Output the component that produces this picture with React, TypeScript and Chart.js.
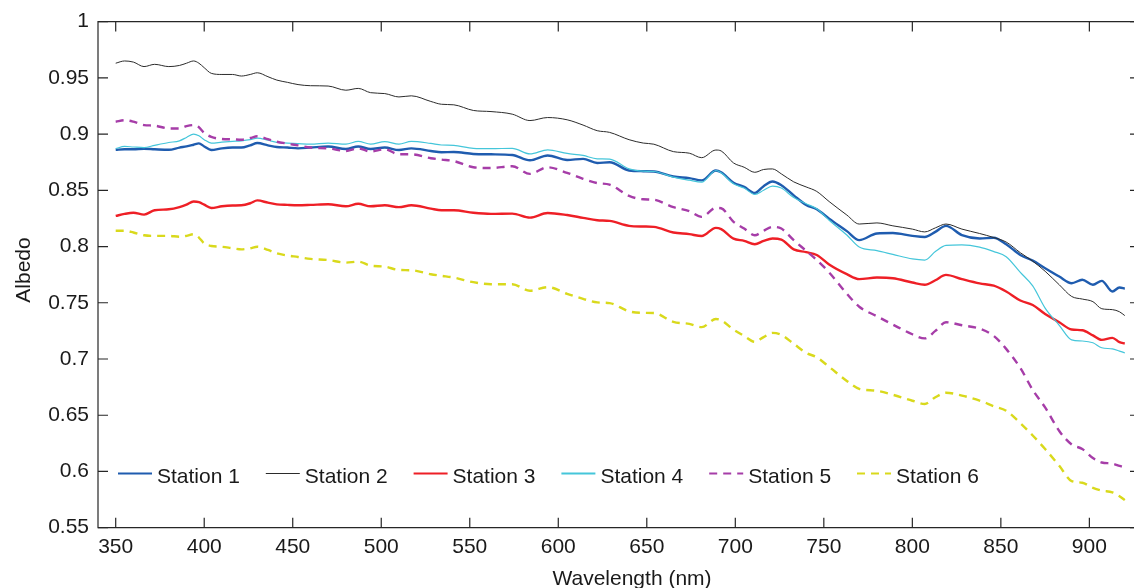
import React, { useEffect, useRef } from "react";
import { Chart, registerables } from "chart.js";

Chart.register(...registerables);

const WAVELENGTHS = [
  350, 355, 360, 366, 372, 380, 386, 390, 394, 397,
  400, 404, 410, 416, 421, 426, 430, 436, 441, 447,
  453, 460, 470, 480, 487, 494, 502, 510, 517, 528,
  534, 541, 552, 562, 574, 584, 594, 605, 614, 622,
  629, 640, 648, 654, 665, 674, 681, 689, 692, 699,
  705, 711, 716, 721, 726, 733, 740, 746, 753, 763,
  770, 780, 789, 800, 807, 813, 819, 828, 838, 846,
  853, 861, 868, 875, 883, 890, 896, 902, 907, 913,
  917, 920,
];

const STATION_1 = [
  0.886, 0.8865, 0.8865, 0.887, 0.8865, 0.886, 0.888, 0.889, 0.8905, 0.8917,
  0.889, 0.8858, 0.8873, 0.888, 0.888, 0.89, 0.892, 0.89, 0.8885, 0.888,
  0.8873, 0.888, 0.889, 0.8867, 0.889, 0.8867, 0.888, 0.8858, 0.8873, 0.885,
  0.8838, 0.884, 0.8823, 0.882, 0.8814, 0.8767, 0.881, 0.877, 0.8779, 0.8743,
  0.875, 0.8676, 0.867, 0.8667, 0.8623, 0.8608, 0.8588, 0.8676, 0.866, 0.8567,
  0.853, 0.8476, 0.8537, 0.8578, 0.8545, 0.8455, 0.837, 0.8331, 0.8248, 0.8137,
  0.8057, 0.8116, 0.812, 0.8095, 0.8085, 0.813, 0.8184, 0.8102, 0.8072, 0.8078,
  0.802, 0.7925, 0.7875, 0.7807, 0.7733, 0.7674, 0.7704, 0.766, 0.7695, 0.76,
  0.7636, 0.7625,
];

const STATION_2 = [
  0.963, 0.965, 0.964, 0.96, 0.962, 0.96, 0.961, 0.963, 0.965, 0.963,
  0.959, 0.954, 0.953, 0.953, 0.9516, 0.953, 0.9545, 0.951, 0.948, 0.946,
  0.944, 0.943, 0.9427, 0.939, 0.9406, 0.9368, 0.936, 0.933, 0.934, 0.929,
  0.9265, 0.926, 0.921, 0.92, 0.9177, 0.912, 0.9147, 0.9127, 0.908, 0.903,
  0.9015, 0.895, 0.892, 0.891, 0.8844, 0.883, 0.879, 0.8858, 0.885, 0.8743,
  0.8705, 0.866, 0.8685, 0.869, 0.8646, 0.8575, 0.853, 0.849, 0.84, 0.828,
  0.82, 0.821, 0.8184, 0.8155, 0.813, 0.8166, 0.82, 0.8155, 0.8116, 0.808,
  0.804, 0.7945, 0.787, 0.778, 0.766, 0.7556, 0.7533, 0.751, 0.7447, 0.7439,
  0.742, 0.7386,
];

const STATION_3 = [
  0.8272, 0.829, 0.83, 0.8284, 0.8323, 0.8331, 0.835, 0.8372, 0.84, 0.8395,
  0.8372, 0.8343, 0.8358, 0.8365, 0.8367, 0.8385, 0.841, 0.839, 0.8375, 0.837,
  0.8367, 0.837, 0.8376, 0.8358, 0.838, 0.8358, 0.8367, 0.835, 0.8367, 0.8337,
  0.8323, 0.8323, 0.83, 0.829, 0.8293, 0.8257, 0.8298, 0.828, 0.8255, 0.8234,
  0.8228, 0.8184, 0.8178, 0.8175, 0.8125, 0.811, 0.8093, 0.8166, 0.8155, 0.807,
  0.8051, 0.802, 0.805, 0.8072, 0.8062, 0.7975, 0.795, 0.7925, 0.784, 0.7754,
  0.771, 0.7724, 0.7718, 0.768, 0.766, 0.77, 0.7748, 0.771, 0.7672, 0.7652,
  0.76, 0.752, 0.748, 0.74, 0.7327, 0.7262, 0.7256, 0.721, 0.717, 0.7188,
  0.715, 0.7138,
];

const STATION_4 = [
  0.887, 0.889, 0.8885, 0.888, 0.89, 0.8925, 0.894, 0.897, 0.9, 0.8985,
  0.895, 0.892, 0.8928, 0.8935, 0.894, 0.895, 0.8964, 0.8945, 0.8926, 0.892,
  0.8915, 0.891, 0.892, 0.891, 0.8935, 0.891, 0.8932, 0.891, 0.8935, 0.8917,
  0.8903, 0.89, 0.8873, 0.887, 0.8873, 0.8823, 0.886, 0.8828, 0.881, 0.878,
  0.8777, 0.869, 0.867, 0.8667, 0.8617, 0.859, 0.8573, 0.8676, 0.8655, 0.8558,
  0.852, 0.8464, 0.85, 0.8537, 0.852, 0.8435, 0.838, 0.8335, 0.8234, 0.8102,
  0.7995, 0.7963, 0.793, 0.789, 0.788, 0.7955, 0.801, 0.8015, 0.7995, 0.7955,
  0.791, 0.777, 0.765, 0.7453, 0.73, 0.717, 0.716, 0.7144, 0.71, 0.709,
  0.707, 0.7055,
];

const STATION_5 = [
  0.911, 0.9123, 0.911, 0.908, 0.9075, 0.905, 0.905, 0.907, 0.908, 0.906,
  0.901, 0.8975, 0.8956, 0.8953, 0.895, 0.8965, 0.898, 0.8955, 0.8932, 0.8915,
  0.89, 0.888, 0.8873, 0.885, 0.8873, 0.8845, 0.8865, 0.882, 0.882, 0.8785,
  0.8773, 0.876, 0.8705, 0.8698, 0.8714, 0.8646, 0.8705, 0.8655, 0.8602, 0.8564,
  0.855, 0.845, 0.842, 0.8416, 0.835, 0.8314, 0.8264, 0.8343, 0.834, 0.822,
  0.816, 0.81, 0.814, 0.8175, 0.816, 0.8057, 0.7962, 0.788, 0.777, 0.758,
  0.7465, 0.738, 0.7306, 0.722, 0.7183, 0.725, 0.7327, 0.73, 0.727, 0.7205,
  0.709, 0.692, 0.6725, 0.657, 0.636, 0.624, 0.62, 0.612, 0.608, 0.607,
  0.605, 0.6035,
];

const STATION_6 = [
  0.814, 0.814, 0.8125, 0.81, 0.8095, 0.8095, 0.8087, 0.8095, 0.811, 0.808,
  0.8027, 0.8005, 0.7998, 0.7985, 0.7975, 0.7985, 0.7998, 0.797, 0.7939, 0.792,
  0.7907, 0.789, 0.788, 0.7857, 0.7866, 0.783, 0.7821, 0.7792, 0.7789, 0.7754,
  0.774, 0.7724, 0.7683, 0.7665, 0.7665, 0.7607, 0.7639, 0.758, 0.7535, 0.7503,
  0.7497, 0.7424, 0.741, 0.7409, 0.733, 0.7312, 0.7283, 0.7356, 0.7345, 0.7262,
  0.7205, 0.7153, 0.7195, 0.7232, 0.7215, 0.7135, 0.7055, 0.7015, 0.693, 0.6805,
  0.6735, 0.6717, 0.6682, 0.6629, 0.66, 0.666, 0.67, 0.6675, 0.663, 0.658,
  0.654, 0.643, 0.632, 0.62, 0.605, 0.5915, 0.59, 0.5855, 0.583, 0.5815,
  0.578, 0.5745,
];

const SERIES_NAMES = ["Station 1", "Station 2", "Station 3", "Station 4", "Station 5", "Station 6"];
const X_TICKS = [350, 400, 450, 500, 550, 600, 650, 700, 750, 800, 850, 900];
const Y_TICKS = [0.55, 0.6, 0.65, 0.7, 0.75, 0.8, 0.85, 0.9, 0.95, 1];
const X_TITLE = "Wavelength (nm)";
const Y_TITLE = "Albedo";

const FONT = "'Liberation Sans', Arial, Helvetica, sans-serif";
const TEXT = "#1a1a1a";
const AXIS = "#262626";

const STYLES = [
  { color: "#1f5caf", width: 2.4, legendWidth: 2.2, dash: [] as number[] },
  { color: "#2b2b2b", width: 1, legendWidth: 1, dash: [] as number[] },
  { color: "#ee1f26", width: 2.4, legendWidth: 2.2, dash: [] as number[] },
  { color: "#45c6da", width: 1.2, legendWidth: 1.8, dash: [] as number[] },
  { color: "#a63da8", width: 2.4, legendWidth: 2.2, dash: [8, 6] },
  { color: "#d9d91c", width: 2.4, legendWidth: 2.2, dash: [8, 6] },
];

const decorPlugin = {
  id: "decor",
  afterDraw(chart: any) {
    const { ctx, chartArea, scales } = chart;
    const { left, right, top, bottom } = chartArea;
    ctx.save();
    ctx.strokeStyle = AXIS;
    ctx.lineWidth = 1.2;
    ctx.setLineDash([]);
    ctx.beginPath();
    ctx.moveTo(left, top);
    ctx.lineTo(right, top);
    ctx.lineTo(right, bottom);
    ctx.lineTo(left, bottom);
    ctx.closePath();
    ctx.stroke();
    const tl = 10;
    ctx.beginPath();
    for (const v of X_TICKS) {
      const x = scales.x.getPixelForValue(v);
      ctx.moveTo(x, bottom);
      ctx.lineTo(x, bottom - tl);
      ctx.moveTo(x, top);
      ctx.lineTo(x, top + tl);
    }
    for (const v of Y_TICKS) {
      const y = scales.y.getPixelForValue(v);
      ctx.moveTo(left, y);
      ctx.lineTo(left + tl, y);
      ctx.moveTo(right, y);
      ctx.lineTo(right - tl, y);
    }
    ctx.stroke();

    ctx.fillStyle = TEXT;
    ctx.font = `21px ${FONT}`;
    ctx.textAlign = "center";
    ctx.textBaseline = "alphabetic";
    ctx.fillText(X_TITLE, 632, 585);
    ctx.save();
    ctx.translate(30, 270);
    ctx.rotate(-Math.PI / 2);
    ctx.fillText(Y_TITLE, 0, 0);
    ctx.restore();

    const ly = 473.5;
    chart.data.datasets.forEach((ds: any, i: number) => {
      const x0 = 118 + i * 147.8;
      ctx.strokeStyle = ds.borderColor;
      ctx.lineWidth = STYLES[i].legendWidth;
      ctx.setLineDash(ds.borderDash || []);
      ctx.beginPath();
      ctx.moveTo(x0, ly);
      ctx.lineTo(x0 + 34, ly);
      ctx.stroke();
      ctx.setLineDash([]);
      ctx.fillStyle = TEXT;
      ctx.textAlign = "left";
      ctx.textBaseline = "alphabetic";
      ctx.fillText(ds.label, x0 + 39, 482.5);
    });
    ctx.restore();
  },
};

export default function App() {
  const canvasRef = useRef<HTMLCanvasElement | null>(null);

  useEffect(() => {
    if (!canvasRef.current) return;
    const all = [STATION_1, STATION_2, STATION_3, STATION_4, STATION_5, STATION_6];
    const datasets = all.map((vals, i) => ({
      label: SERIES_NAMES[i],
      data: WAVELENGTHS.map((w, j) => ({ x: w, y: vals[j] })),
      borderColor: STYLES[i].color,
      backgroundColor: STYLES[i].color,
      borderWidth: STYLES[i].width,
      borderDash: STYLES[i].dash,
      pointRadius: 0,
      cubicInterpolationMode: "monotone" as const,
      fill: false,
      order: 6 - i,
    }));
    const chart = new Chart(canvasRef.current, {
      type: "line",
      data: { datasets },
      options: {
        animation: false,
        responsive: false,
        devicePixelRatio: 1,
        layout: { padding: { left: 0, top: 18.5, right: 40, bottom: 0 } },
        plugins: { legend: { display: false }, tooltip: { enabled: false } },
        scales: {
          x: {
            type: "linear",
            min: 340,
            max: 928.6,
            grid: { display: false, drawTicks: false },
            border: { display: false },
            ticks: {
              font: { family: FONT, size: 21 },
              color: TEXT,
              padding: 7,
              maxRotation: 0,
              autoSkip: false,
            },
            afterBuildTicks: (s: any) => {
              s.ticks = X_TICKS.map((v) => ({ value: v }));
            },
            afterFit: (s: any) => {
              s.height = 600 - 527.7;
            },
          },
          y: {
            type: "linear",
            min: 0.55,
            max: 1,
            grid: { display: false, drawTicks: false },
            border: { display: false },
            ticks: {
              font: { family: FONT, size: 21 },
              color: TEXT,
              padding: 9,
              autoSkip: false,
              callback: (v: any) => String(Number(Number(v).toFixed(2))),
            },
            afterBuildTicks: (s: any) => {
              s.ticks = Y_TICKS.map((v) => ({ value: v }));
            },
            afterFit: (s: any) => {
              s.width = 98;
            },
          },
        },
      },
      plugins: [decorPlugin],
    });
    return () => chart.destroy();
  }, []);

  return (
    <div
      style={{
        position: "fixed",
        left: 0,
        top: 0,
        width: 1134,
        height: 588,
        overflow: "hidden",
        background: "#fff",
      }}
    >
      <canvas ref={canvasRef} width={1180} height={600} style={{ width: 1180, height: 600, display: "block" }} />
    </div>
  );
}
